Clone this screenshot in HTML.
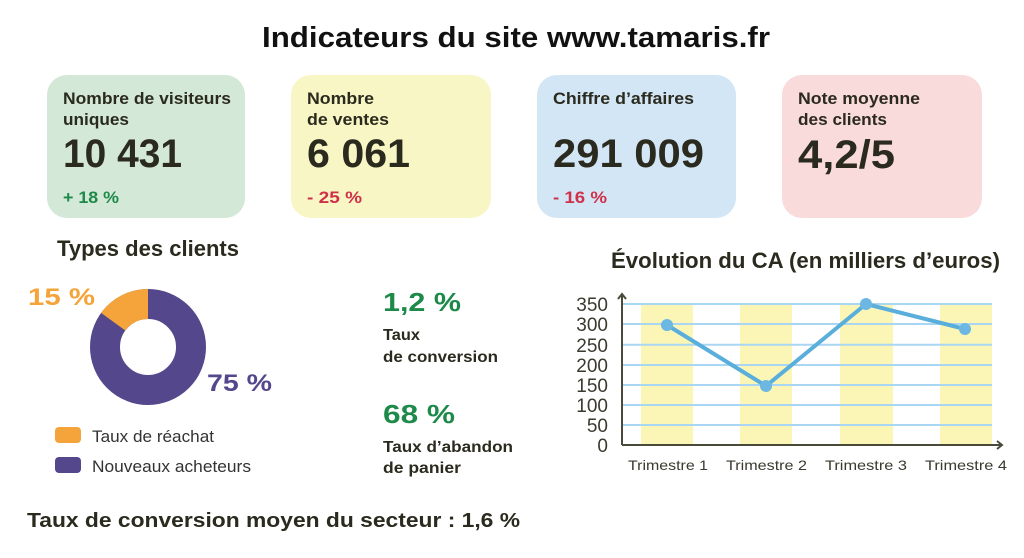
<!DOCTYPE html>
<html><head><meta charset="utf-8"><style>
html,body{margin:0;padding:0;background:#fff;}
svg{display:block;}
text{font-family:"Liberation Sans",sans-serif;font-weight:bold;}
text.n{font-weight:normal;}
</style></head><body>
<svg width="1024" height="558" viewBox="0 0 1024 558" xmlns="http://www.w3.org/2000/svg">
<text x="262" y="47" font-size="29" fill="#111" textLength="508" lengthAdjust="spacingAndGlyphs">Indicateurs du site www.tamaris.fr</text>

<rect x="47" y="75" width="198" height="143" rx="20" fill="#d3e8d6"/>
<rect x="291" y="75" width="200" height="143" rx="20" fill="#f8f6c4"/>
<rect x="537" y="75" width="199" height="143" rx="20" fill="#d3e6f6"/>
<rect x="782" y="75" width="200" height="143" rx="20" fill="#f9dbdb"/>

<g fill="#2b2a1e">
<text x="63" y="104" font-size="17" textLength="168" lengthAdjust="spacingAndGlyphs">Nombre de visiteurs</text>
<text x="63" y="125" font-size="17" textLength="66" lengthAdjust="spacingAndGlyphs">uniques</text>
<text x="63" y="167" font-size="40" textLength="119" lengthAdjust="spacingAndGlyphs">10 431</text>
<text x="307" y="104" font-size="17" textLength="67" lengthAdjust="spacingAndGlyphs">Nombre</text>
<text x="307" y="125" font-size="17" textLength="82" lengthAdjust="spacingAndGlyphs">de ventes</text>
<text x="307" y="167" font-size="40" textLength="103" lengthAdjust="spacingAndGlyphs">6 061</text>
<text x="553" y="104" font-size="17" textLength="141" lengthAdjust="spacingAndGlyphs">Chiffre d’affaires</text>
<text x="553" y="167" font-size="40" textLength="151" lengthAdjust="spacingAndGlyphs">291 009</text>
<text x="798" y="104" font-size="17" textLength="122" lengthAdjust="spacingAndGlyphs">Note moyenne</text>
<text x="798" y="125" font-size="17" textLength="89" lengthAdjust="spacingAndGlyphs">des clients</text>
<text x="798" y="168" font-size="40" textLength="97" lengthAdjust="spacingAndGlyphs">4,2/5</text>
</g>
<text x="63" y="203" font-size="17" fill="#1e8a4a" textLength="56" lengthAdjust="spacingAndGlyphs">+ 18 %</text>
<text x="307" y="203" font-size="17" fill="#d0314a" textLength="55" lengthAdjust="spacingAndGlyphs">- 25 %</text>
<text x="553" y="203" font-size="17" fill="#d0314a" textLength="54" lengthAdjust="spacingAndGlyphs">- 16 %</text>

<text x="57" y="256" font-size="22" fill="#2b2a1e" textLength="182" lengthAdjust="spacingAndGlyphs">Types des clients</text>
<circle cx="148" cy="347" r="43" fill="none" stroke="#54478c" stroke-width="30"/>
<path d="M148 304 A43 43 0 0 0 113.2 321.7" fill="none" stroke="#f4a43a" stroke-width="30"/>
<text x="28" y="305" font-size="24" fill="#f4a43a" textLength="67" lengthAdjust="spacingAndGlyphs">15 %</text>
<text x="207" y="391" font-size="24" fill="#54478c" textLength="65" lengthAdjust="spacingAndGlyphs">75 %</text>
<rect x="55" y="427" width="26" height="16" rx="4" fill="#f4a43a"/>
<rect x="55" y="457" width="26" height="16" rx="4" fill="#54478c"/>
<text class="n" x="92" y="442" font-size="17" fill="#333" textLength="122" lengthAdjust="spacingAndGlyphs">Taux de réachat</text>
<text class="n" x="92" y="472" font-size="17" fill="#333" textLength="159" lengthAdjust="spacingAndGlyphs">Nouveaux acheteurs</text>

<text x="383" y="311" font-size="26" fill="#1e8a4a" textLength="78" lengthAdjust="spacingAndGlyphs">1,2 %</text>
<text x="383" y="340" font-size="16" fill="#2b2a1e" textLength="37" lengthAdjust="spacingAndGlyphs">Taux</text>
<text x="383" y="362" font-size="16" fill="#2b2a1e" textLength="115" lengthAdjust="spacingAndGlyphs">de conversion</text>
<text x="383" y="423" font-size="26" fill="#1e8a4a" textLength="72" lengthAdjust="spacingAndGlyphs">68 %</text>
<text x="383" y="452" font-size="16" fill="#2b2a1e" textLength="130" lengthAdjust="spacingAndGlyphs">Taux d’abandon</text>
<text x="383" y="473" font-size="16" fill="#2b2a1e" textLength="78" lengthAdjust="spacingAndGlyphs">de panier</text>

<text x="27" y="527" font-size="20" fill="#2b2a1e" textLength="493" lengthAdjust="spacingAndGlyphs">Taux de conversion moyen du secteur : 1,6 %</text>

<text x="611" y="268" font-size="22" fill="#2b2a1e" textLength="389" lengthAdjust="spacingAndGlyphs">Évolution du CA (en milliers d’euros)</text>
<g fill="#fbf6b6">
<rect x="641" y="304" width="52" height="141"/>
<rect x="740" y="304" width="52" height="141"/>
<rect x="840" y="304" width="53" height="141"/>
<rect x="940" y="304" width="52" height="141"/>
</g>
<g stroke="#a9d6f2" stroke-width="2">
<line x1="622" y1="304" x2="992" y2="304"/>
<line x1="622" y1="324" x2="992" y2="324"/>
<line x1="622" y1="344.7" x2="992" y2="344.7"/>
<line x1="622" y1="365" x2="992" y2="365"/>
<line x1="622" y1="385" x2="992" y2="385"/>
<line x1="622" y1="405" x2="992" y2="405"/>
<line x1="622" y1="425" x2="992" y2="425"/>
</g>
<g stroke="#4a4a3a" stroke-width="2" fill="none">
<line x1="622" y1="445" x2="1002" y2="445"/>
<line x1="622" y1="445" x2="622" y2="294"/>
<polyline points="618,299 622,294 626,299"/>
<polyline points="997,441 1002,445 997,449"/>
</g>
<polyline points="667,325 766,386 866,304 965,329" fill="none" stroke="#5aaedb" stroke-width="4" stroke-linejoin="round"/>
<g fill="#6cb8e2">
<circle cx="667" cy="325" r="6"/><circle cx="766" cy="386" r="6"/><circle cx="866" cy="304" r="6"/><circle cx="965" cy="329" r="6"/>
</g>
<g font-size="19" fill="#3a3a2e" text-anchor="end">
<text class="n" x="608" y="311">350</text><text class="n" x="608" y="331">300</text><text class="n" x="608" y="352">250</text><text class="n" x="608" y="372">200</text><text class="n" x="608" y="392">150</text><text class="n" x="608" y="412">100</text><text class="n" x="608" y="432">50</text><text class="n" x="608" y="452">0</text>
</g>
<g font-size="14" fill="#3a3a2e">
<text class="n" x="628" y="470" textLength="80" lengthAdjust="spacingAndGlyphs">Trimestre 1</text>
<text class="n" x="726" y="470" textLength="81" lengthAdjust="spacingAndGlyphs">Trimestre 2</text>
<text class="n" x="825" y="470" textLength="82" lengthAdjust="spacingAndGlyphs">Trimestre 3</text>
<text class="n" x="925" y="470" textLength="82" lengthAdjust="spacingAndGlyphs">Trimestre 4</text>
</g>
</svg>
</body></html>
